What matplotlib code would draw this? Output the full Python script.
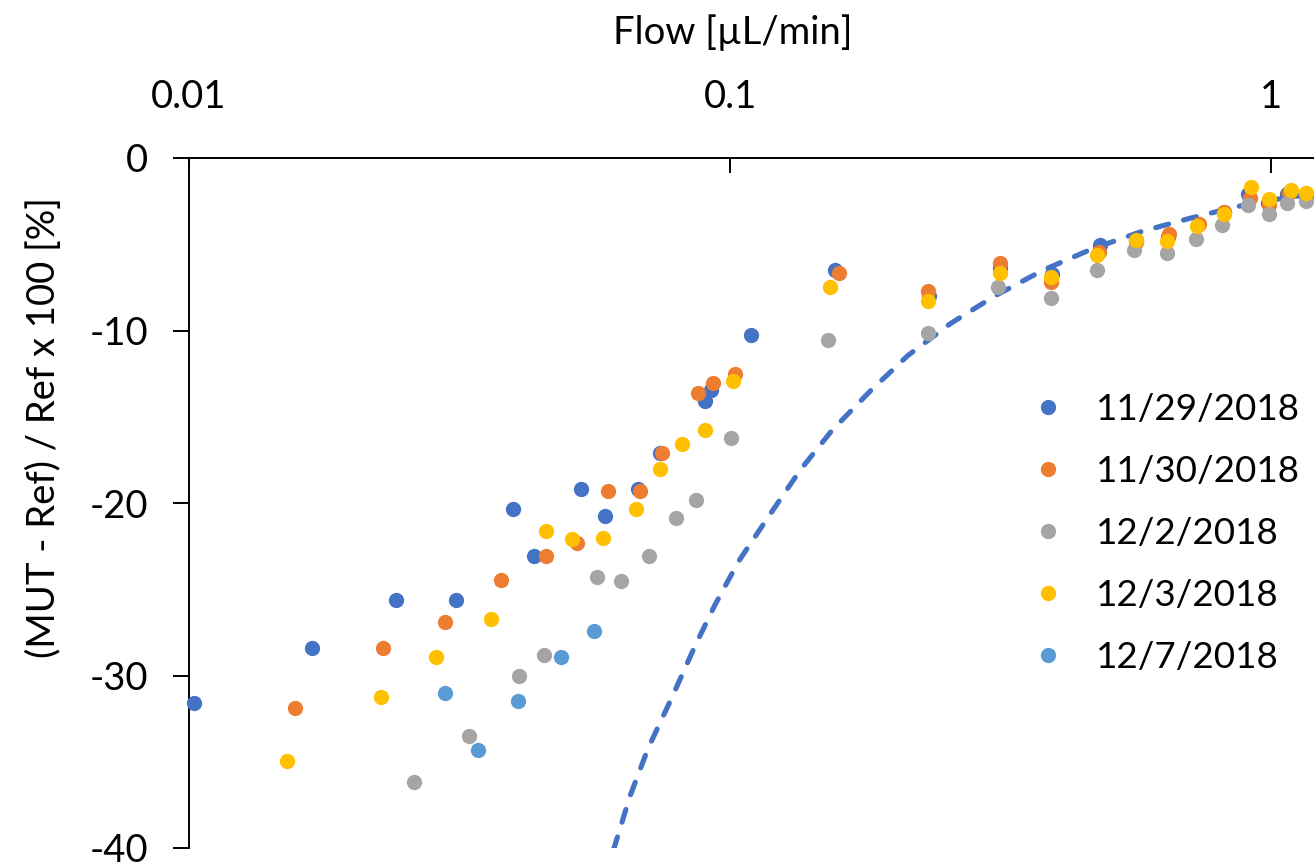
import matplotlib
matplotlib.use("Agg")
import matplotlib.pyplot as plt
from matplotlib.ticker import NullLocator

plt.rcParams["font.family"] = ["Lato", "DejaVu Sans"]
plt.rcParams["axes.unicode_minus"] = False

# measured series (flow in uL/min, deviation in %)
x_1129 = [0.0102, 0.0169, 0.0241, 0.0311, 0.0397, 0.0435, 0.0530, 0.0588, 0.0676, 0.0742,
          0.0897, 0.0922, 0.1092, 0.156, 0.233, 0.316, 0.393, 0.483, 0.563, 0.645,
          0.732, 0.818, 0.907, 0.985, 1.07, 1.16]
y_1129 = [-31.6, -28.4, -25.6, -25.6, -20.35, -23.1, -19.2, -20.75, -19.2, -17.1,
          -14.1, -13.45, -10.25, -6.5, -8.0, -6.4, -6.7, -5.05, -4.75, -4.6,
          -3.9, -3.15, -2.1, -2.6, -2.1, -2.2]

x_1130 = [0.0157, 0.0228, 0.0297, 0.0378, 0.0457, 0.0521, 0.0594, 0.0683, 0.0750, 0.0874,
          0.0931, 0.1021, 0.159, 0.232, 0.315, 0.392, 0.48, 0.563, 0.648, 0.736,
          0.818, 0.915, 0.99, 1.08, 1.16]
y_1130 = [-31.9, -28.4, -26.9, -24.45, -23.05, -22.3, -19.3, -19.3, -17.1, -13.6,
          -13.05, -12.55, -6.65, -7.7, -6.1, -7.2, -5.45, -4.85, -4.4, -3.85,
          -3.15, -2.3, -2.7, -2.05, -2.0]

x_1202 = [0.0260, 0.0329, 0.0408, 0.0453, 0.0567, 0.0628, 0.0709, 0.0794, 0.0864, 0.1003,
          0.152, 0.232, 0.313, 0.392, 0.477, 0.557, 0.643, 0.727, 0.812, 0.908,
          0.99, 1.07, 1.16]
y_1202 = [-36.2, -33.5, -30.05, -28.8, -24.3, -24.55, -23.05, -20.85, -19.85, -16.25,
          -10.55, -10.15, -7.45, -8.1, -6.5, -5.35, -5.5, -4.7, -3.9, -2.7,
          -3.25, -2.6, -2.5]

x_1203 = [0.0152, 0.0226, 0.0286, 0.0361, 0.0457, 0.0511, 0.0583, 0.0670, 0.0742, 0.0816,
          0.0897, 0.1013, 0.153, 0.232, 0.315, 0.392, 0.477, 0.563, 0.643, 0.73,
          0.818, 0.918, 0.99, 1.09, 1.16]
y_1203 = [-34.95, -31.25, -28.9, -26.75, -21.6, -22.1, -22.0, -20.35, -18.05, -16.6,
          -15.75, -12.95, -7.45, -8.3, -6.65, -6.9, -5.6, -4.75, -4.8, -3.95,
          -3.25, -1.7, -2.35, -1.85, -2.0]

x_1207 = [0.0297, 0.0342, 0.0405, 0.0488, 0.0561]
y_1207 = [-31.0, -34.3, -31.5, -28.95, -27.4]

# dashed reference curve
x_ref = [0.0609, 0.0653, 0.0706, 0.0780, 0.0861, 0.0938, 0.1036, 0.1177, 0.1347, 0.1542,
         0.1817, 0.2131, 0.2554, 0.3084, 0.379, 0.466, 0.575, 0.7066, 0.863, 1.0, 1.2]
y_ref = [-40.1, -37.0, -34.2, -31.3, -28.3, -25.9, -23.4, -20.8, -18.1, -15.8,
         -13.5, -11.45, -9.6, -8.0, -6.5, -5.28, -4.27, -3.5, -2.82, -2.45, -2.05]

series = [
    ("11/29/2018", x_1129, y_1129, "#4472C4"),
    ("11/30/2018", x_1130, y_1130, "#ED7D31"),
    ("12/2/2018", x_1202, y_1202, "#A5A5A5"),
    ("12/3/2018", x_1203, y_1203, "#FFC000"),
    ("12/7/2018", x_1207, y_1207, "#5B9BD5"),
]

W, H = 1314, 867
fig = plt.figure(figsize=(W / 100, H / 100), dpi=100)
ax = fig.add_axes([189 / W, 1 - 848 / H, 1 - 189 / W, (848 - 158) / H])

ax.plot(x_ref, y_ref, color="#4472C4", lw=3.7, linestyle=(0, (2.6, 3.0)),
        dash_capstyle="round", zorder=1, label="_nolegend_")

for label, xs, ys, c in series:
    ax.plot(xs, ys, "o", ms=11, color=c, mec="none", label=label, clip_on=False, zorder=3)

ax.set_xscale("log")
ax.set_xlim(0.01, 1.2)
ax.set_ylim(-40, 0)
ax.xaxis.tick_top()
ax.set_xticks([0.01, 0.1, 1], ["0.01", "0.1", "1"])
ax.xaxis.set_minor_locator(NullLocator())
ax.set_yticks([0, -10, -20, -30, -40])

ax.tick_params(axis="x", direction="in", length=11, width=1.4, pad=31, labelsize=27.5)
ax.tick_params(axis="y", direction="out", length=11.5, width=1.4, pad=18, labelsize=27.5)
for s in ["bottom", "right"]:
    ax.spines[s].set_visible(False)
for s in ["top", "left"]:
    ax.spines[s].set_linewidth(1.4)

fig.text(733 / W, 1 - 33 / H, "Flow [µL/min]", ha="center", va="center", fontsize=27.5)
fig.text(44 / W, 1 - 428 / H, "(MUT - Ref) / Ref x 100 [%]", ha="center", va="center",
         rotation=90, fontsize=27.5)

ax.legend(loc="upper left", bbox_to_anchor=(1030 / W, 1 - 393 / H), bbox_transform=fig.transFigure,
          frameon=False, fontsize=26.5, handlelength=1.0, handletextpad=0.8,
          labelspacing=0.79, borderpad=0, borderaxespad=0)

fig.savefig("out.png", dpi=100)
